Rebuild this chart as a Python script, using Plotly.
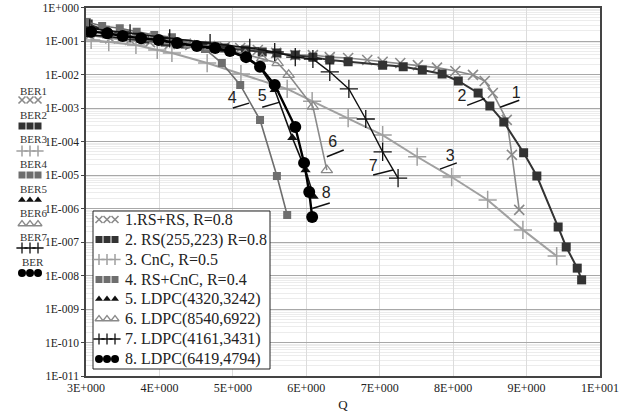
import plotly.graph_objects as go

W, H = 630, 417

# ---- data (Q, BER) ----
q1 = [3.05, 3.33, 3.60, 3.87, 4.14, 4.42, 4.69, 4.89, 5.10, 5.34, 5.59, 5.85, 6.09, 6.32, 6.57, 6.83, 7.04, 7.28, 7.52, 7.78, 8.03, 8.27, 8.43, 8.54, 8.73, 8.80, 8.90]
b1 = [0.15, 0.12, 0.107, 0.093, 0.081, 0.076, 0.071, 0.066, 0.062, 0.054, 0.044, 0.038, 0.038, 0.033, 0.031, 0.027, 0.024, 0.022, 0.019, 0.016, 0.0127, 0.0097, 0.0064, 0.0028, 0.00044, 4.0e-5, 9.1e-7]

q2 = [3.03, 3.26, 3.53, 3.80, 4.08, 4.35, 4.62, 4.89, 5.17, 5.40, 5.60, 5.85, 6.09, 6.32, 6.57, 7.04, 7.32, 7.58, 7.85, 8.07, 8.34, 8.50, 8.69, 8.96, 9.14, 9.43, 9.54, 9.69, 9.75]
b2 = [0.32, 0.21, 0.15, 0.115, 0.093, 0.081, 0.071, 0.062, 0.054, 0.047, 0.044, 0.038, 0.033, 0.027, 0.024, 0.019, 0.017, 0.0136, 0.0103, 0.0064, 0.0028, 0.00115, 0.00038, 4.6e-5, 9.3e-6, 2.8e-7, 7.1e-8, 1.66e-8, 7.4e-9]

q3 = [3.07, 3.31, 3.68, 3.97, 4.17, 4.65, 5.11, 5.74, 6.08, 6.57, 7.04, 7.51, 7.98, 8.47, 8.95, 9.41]
b3 = [0.107, 0.093, 0.076, 0.054, 0.044, 0.022, 0.0103, 0.0037, 0.0016, 5.0e-4, 1.55e-4, 3.5e-5, 8.7e-6, 1.8e-6, 2.3e-7, 3.8e-8]

q4 = [3.01, 3.22, 3.46, 3.69, 3.93, 4.17, 4.38, 4.62, 4.85, 5.10, 5.37, 5.60, 5.74]
b4 = [0.37, 0.28, 0.24, 0.19, 0.15, 0.13, 0.081, 0.058, 0.022, 0.0049, 0.00044, 9.3e-6, 6.4e-7]

q5 = [3.05, 3.29, 3.50, 3.75, 3.99, 4.24, 4.51, 4.76, 4.96, 5.18, 5.37, 5.57, 5.81, 5.99, 6.10]
b5 = [0.15, 0.14, 0.12, 0.107, 0.093, 0.081, 0.066, 0.058, 0.047, 0.031, 0.016, 0.0035, 1.3e-4, 1.4e-5, 2.3e-6]

q6 = [3.05, 3.33, 3.60, 3.87, 4.14, 4.42, 4.69, 4.96, 5.17, 5.40, 5.61, 5.76, 6.09, 6.28]
b6 = [0.21, 0.17, 0.14, 0.12, 0.10, 0.081, 0.066, 0.054, 0.040, 0.030, 0.022, 0.0097, 0.0011, 1.4e-5]

q7 = [3.05, 3.60, 4.14, 4.69, 5.23, 5.57, 5.85, 6.09, 6.32, 6.58, 6.81, 7.04, 7.25]
b7 = [0.24, 0.17, 0.12, 0.087, 0.062, 0.047, 0.033, 0.029, 0.012, 0.0037, 0.00047, 4.9e-5, 8.1e-6]

q8 = [3.07, 3.29, 3.50, 3.75, 3.99, 4.24, 4.51, 4.76, 4.96, 5.18, 5.37, 5.57, 5.85, 5.97, 6.04, 6.08]
b8 = [0.19, 0.17, 0.14, 0.12, 0.107, 0.087, 0.071, 0.062, 0.050, 0.033, 0.017, 0.0049, 0.00027, 2.3e-5, 3.1e-6, 5.6e-7]

names = ["1.RS+RS, R=0.8", "2. RS(255,223) R=0.8", "3. CnC, R=0.5", "4. RS+CnC, R=0.4",
         "5. LDPC(4320,3242)", "6. LDPC(8540,6922)", "7. LDPC(4161,3431)", "8. LDPC(6419,4794)"]
side_labels = ["BER1", "BER2", "BER3", "BER4", "BER5", "BER6", "BER7", "BER"]

x_tickvals = [3, 4, 5, 6, 7, 8, 9, 10]
x_ticktext = ["3E+000", "4E+000", "5E+000", "6E+000", "7E+000", "8E+000", "9E+000", "1E+001"]
y_exps = list(range(0, -12, -1))
y_tickvals = [10.0 ** e for e in y_exps]
y_ticktext = ["1E+000"] + ["1E-%03d" % (-e) for e in y_exps[1:]]

# curve label callouts: label text position and leader-line ends
lab_text = ["1", "2", "3", "4", "5", "6", "7", "8"]
lab_q = [8.86, 8.12, 7.96, 4.99, 5.40, 6.36, 6.91, 6.27]
lab_b = [0.0026, 0.0021, 3.5e-5, 0.0019, 0.0021, 9.1e-5, 1.7e-5, 2.7e-6]
lead_q = [(8.64, 8.90), (8.19, 8.43), (7.82, 8.05), (5.00, 5.22), (5.40, 5.64), (6.28, 6.51), (6.91, 7.18), (6.08, 6.32)]
lead_b = [(0.00105, 0.0017), (0.0012, 0.0019), (1.5e-5, 2.3e-5), (0.001, 0.0014), (0.00105, 0.0015), (3.5e-5, 5.6e-5), (1.0e-5, 1.4e-5), (1.0e-6, 1.45e-6)]

# ---- styles ----
series = [(q1, b1), (q2, b2), (q3, b3), (q4, b4), (q5, b5), (q6, b6), (q7, b7), (q8, b8)]
styles = [
    dict(color="#8a8a8a", symbol="x-thin-open", size=10, mlw=1.6, lw=1.6, ks=7),
    dict(color="#333333", symbol="square", size=9, mlw=0, lw=2.0, ks=7),
    dict(color="#a0a0a0", symbol="cross-thin-open", size=13, mlw=1.5, lw=2.0, ks=8),
    dict(color="#6e6e6e", symbol="square", size=8, mlw=0, lw=1.6, ks=7),
    dict(color="#111111", symbol="triangle-up", size=9, mlw=0, lw=1.6, ks=7),
    dict(color="#8a8a8a", symbol="triangle-up-open", size=10, mlw=1.3, lw=1.6, ks=7),
    dict(color="#111111", symbol="cross-thin-open", size=13, mlw=1.3, lw=1.4, ks=8),
    dict(color="#000000", symbol="circle", size=12, mlw=0, lw=2.4, ks=8),
]

SERIF = "Liberation Serif, Times New Roman, serif"
SANS = "Liberation Sans, Arial, sans-serif"

# plot area in page pixels
PL, PR, PT, PB = 86, 600, 7.5, 376

fig = go.Figure()
for (qs, bs), nm, st in zip(series, names, styles):
    fig.add_trace(go.Scatter(
        x=qs, y=bs, name=nm, mode="lines+markers", showlegend=False,
        line=dict(color=st["color"], width=st["lw"]),
        marker=dict(symbol=st["symbol"], size=st["size"], color=st["color"],
                    line=dict(color=st["color"], width=st["mlw"])),
        xaxis="x", yaxis="y"))

# leader lines and curve numbers
lx, ly = [], []
for (a, b), (c, d) in zip(lead_q, lead_b):
    lx += [a, b, None]
    ly += [c, d, None]
fig.add_trace(go.Scatter(x=lx, y=ly, mode="lines", line=dict(color="#111", width=1.5),
                         showlegend=False, hoverinfo="skip"))
fig.add_trace(go.Scatter(x=lab_q, y=lab_b, mode="text", text=lab_text,
                         textfont=dict(family=SANS, size=16, color="#222"),
                         showlegend=False, hoverinfo="skip"))

# ---- legend box (drawn by hand: three markers + text per row) ----
LEG_X0, LEG_X1, LEG_Y0, LEG_Y1 = 93, 270, 211, 369
leg_rows = [219.5, 239.5, 259.5, 279.5, 299, 319, 339, 359]
leg_mx = [99, 107, 115]
fig.add_trace(go.Scatter(
    x=[LEG_X0, LEG_X1, LEG_X1, LEG_X0, LEG_X0], y=[LEG_Y0, LEG_Y0, LEG_Y1, LEG_Y1, LEG_Y0],
    mode="lines", fill="toself", fillcolor="white", line=dict(color="#222", width=1),
    showlegend=False, hoverinfo="skip", xaxis="x2", yaxis="y2"))
for nm, ry, st in zip(names, leg_rows, styles):
    fig.add_annotation(x=123 / W, y=1 - ry / H, xref="paper", yref="paper", text=nm,
                       showarrow=False, xanchor="left", yanchor="middle",
                       font=dict(family=SERIF, size=16, color="#222"))
    fig.add_trace(go.Scatter(
        x=leg_mx, y=[ry] * 3, mode="markers", showlegend=False, hoverinfo="skip",
        marker=dict(symbol=st["symbol"], size=st["ks"], color=st["color"],
                    line=dict(color=st["color"], width=st["mlw"])),
        xaxis="x2", yaxis="y2"))

# ---- left-side BER key (own small axes at the left edge) ----
row_text_y = [91, 115, 139.5, 164, 188.5, 213, 237, 262]
row_mark_y = [100, 126, 151, 175, 200, 224, 248, 273]
key_mx = [22, 30, 38]
for lbl, ty, my, st in zip(side_labels, row_text_y, row_mark_y, styles):
    fig.add_annotation(x=33 / W, y=1 - ty / H, xref="paper", yref="paper", text=lbl,
                       showarrow=False, xanchor="center", yanchor="middle",
                       font=dict(family=SERIF, size=11, color="#333"))
    fig.add_trace(go.Scatter(
        x=key_mx, y=[my] * 3, mode="markers", showlegend=False, hoverinfo="skip",
        marker=dict(symbol=st["symbol"], size=st["ks"], color=st["color"],
                    line=dict(color=st["color"], width=st["mlw"])),
        xaxis="x3", yaxis="y3"))

fig.update_layout(
    width=W, height=H,
    margin=dict(l=0, r=0, t=0, b=0),
    paper_bgcolor="white", plot_bgcolor="white",
    font=dict(family=SERIF, size=12, color="#222"),
    showlegend=False,
    xaxis=dict(domain=[PL / W, PR / W], range=[3, 10], tickmode="array",
               tickvals=x_tickvals, ticktext=x_ticktext,
               showgrid=True, gridcolor="#dcdcdc", gridwidth=1,
               showline=True, linecolor="#444", linewidth=1.5, mirror=True,
               ticks="", zeroline=False, automargin=False,
               tickfont=dict(family=SERIF, size=12, color="#222"),
               title=dict(text="Q", font=dict(family=SERIF, size=13, color="#222"), standoff=6),
               anchor="y"),
    yaxis=dict(domain=[1 - PB / H, 1 - PT / H], type="log", range=[-11, 0], tickmode="array",
               tickvals=y_tickvals, ticktext=y_ticktext,
               showgrid=True, gridcolor="#a8a8a8", gridwidth=1,
               minor=dict(tickvals=[k * 10.0 ** e for e in range(-11, 0) for k in range(2, 10)],
                          showgrid=True, gridcolor="#ececec", gridwidth=1, ticks=""),
               showline=True, linecolor="#444", linewidth=1.5, mirror=True,
               ticks="outside", ticklen=3, tickcolor="#444", zeroline=False, automargin=False,
               tickfont=dict(family=SERIF, size=11.5, color="#222"),
               anchor="x"),
    # overlay axes in page-pixel units, used only for the hand-drawn legend
    xaxis2=dict(overlaying="x", range=[PL, PR], visible=False, anchor="y2", fixedrange=True),
    yaxis2=dict(overlaying="y", range=[PB, PT], visible=False, anchor="x2", fixedrange=True),
    # left-edge axes in page-pixel units for the BER key
    xaxis3=dict(domain=[0, 60 / W], range=[0, 60], visible=False, anchor="y3", fixedrange=True),
    yaxis3=dict(domain=[0, 1], range=[H, 0], visible=False, anchor="x3", fixedrange=True),
)

fig.write_html("out.html", config={"displayModeBar": False},
               post_script="document.body.style.margin='0';document.body.style.overflow='hidden';")
